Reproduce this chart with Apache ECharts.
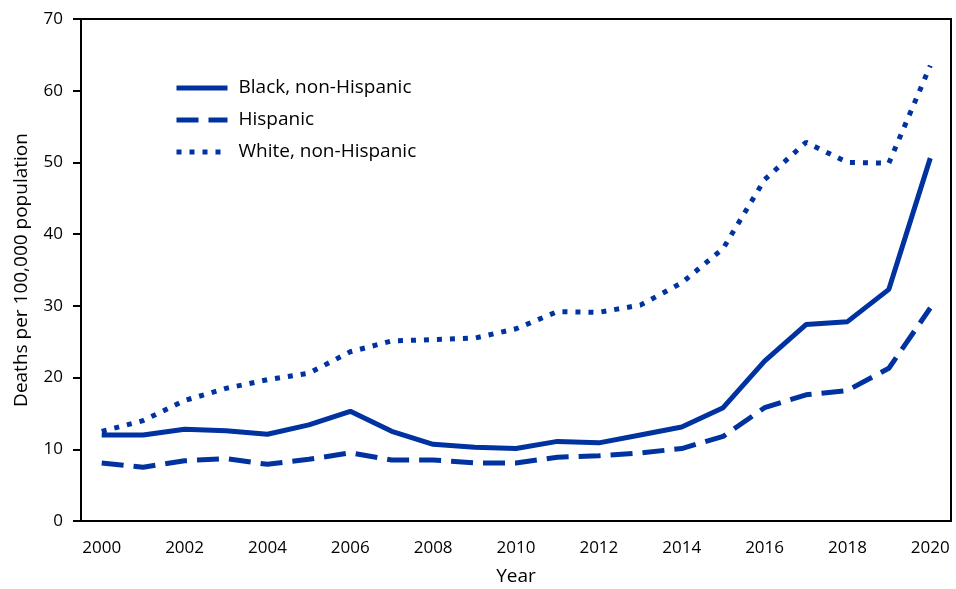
<!DOCTYPE html>
<html><head><meta charset="utf-8">
<script src="https://cdn.jsdelivr.net/npm/echarts@6/dist/echarts.min.js"></script>
<style>html,body{margin:0;padding:0;background:#fff}#c{width:956px;height:589px}</style>
</head><body><div id="c"></div>
<script>
const years = ['2000','2001','2002','2003','2004','2005','2006','2007','2008','2009','2010','2011','2012','2013','2014','2015','2016','2017','2018','2019','2020'];
const black = [12.0,12.0,12.8,12.6,12.1,13.4,15.3,12.5,10.7,10.3,10.1,11.1,10.9,12.0,13.1,15.8,22.3,27.4,27.8,32.3,50.6];
const hispanic = [8.1,7.5,8.4,8.7,7.9,8.6,9.5,8.5,8.5,8.1,8.1,8.9,9.1,9.5,10.1,11.8,15.8,17.6,18.2,21.3,29.7];
const white = [12.5,14.0,16.8,18.5,19.7,20.6,23.6,25.1,25.3,25.5,26.8,29.2,29.1,30.1,33.2,38.0,47.6,52.8,50.0,49.9,63.5];
const yTicks = [0,10,20,30,40,50,60,70];
const seriesNames = ['Black, non-Hispanic','Hispanic','White, non-Hispanic'];

const color = '#0033a0';
const font = 'Open Sans';
const dashA = [22,10];
const dotA = [5,8];
const chart = echarts.init(document.getElementById('c'));
chart.setOption({
  animation: false,
  grid: {left: 81, right: 5, top: 19, bottom: 68, show: true, borderColor: '#000', borderWidth: 2,
         containLabel: false, outerBoundsMode: 'none'},
  legend: {
    left: 174, top: 78, padding: 0, orient: 'vertical', itemWidth: 51, itemHeight: 14, itemGap: 12,
    itemStyle: {opacity: 0},
    textStyle: {fontFamily: font, fontSize: 19, lineHeight: 20, color: '#000', padding: [0,0,0,6]},
    data: [
      {name: seriesNames[0], lineStyle: {width: 5, color: color, type: 'solid', opacity: 1}},
      {name: seriesNames[1], lineStyle: {width: 5, color: color, type: dashA, opacity: 1}},
      {name: seriesNames[2], lineStyle: {width: 5, color: color, type: dotA, opacity: 1}}
    ]
  },
  xAxis: {
    type: 'category', data: years, boundaryGap: true,
    name: 'Year', nameLocation: 'middle', nameGap: 46,
    nameTextStyle: {fontFamily: font, fontSize: 19, color: '#000'},
    axisLine: {lineStyle: {color: '#000', width: 2}},
    axisTick: {alignWithLabel: true, length: 8, lineStyle: {color: '#000', width: 2}},
    axisLabel: {interval: 1, fontFamily: font, fontSize: 17, color: '#000', margin: 19}
  },
  yAxis: {
    type: 'value', min: yTicks[0], max: yTicks[yTicks.length-1], interval: 10,
    name: 'Deaths per 100,000 population', nameLocation: 'middle', nameGap: 50,
    nameTextStyle: {fontFamily: font, fontSize: 19, color: '#000'},
    splitLine: {show: false},
    axisLine: {show: true, lineStyle: {color: '#000', width: 2}},
    axisTick: {show: true, length: 8, lineStyle: {color: '#000', width: 2}},
    axisLabel: {fontFamily: font, fontSize: 17, color: '#000', margin: 18}
  },
  series: [
    {name: seriesNames[0], type: 'line', data: black, symbol: 'none', color: color,
     lineStyle: {width: 5, color: color, type: 'solid'}},
    {name: seriesNames[1], type: 'line', data: hispanic, symbol: 'none', color: color,
     lineStyle: {width: 5, color: color, type: dashA}},
    {name: seriesNames[2], type: 'line', data: white, symbol: 'none', color: color,
     lineStyle: {width: 5, color: color, type: dotA}}
  ]
});
</script></body></html>
